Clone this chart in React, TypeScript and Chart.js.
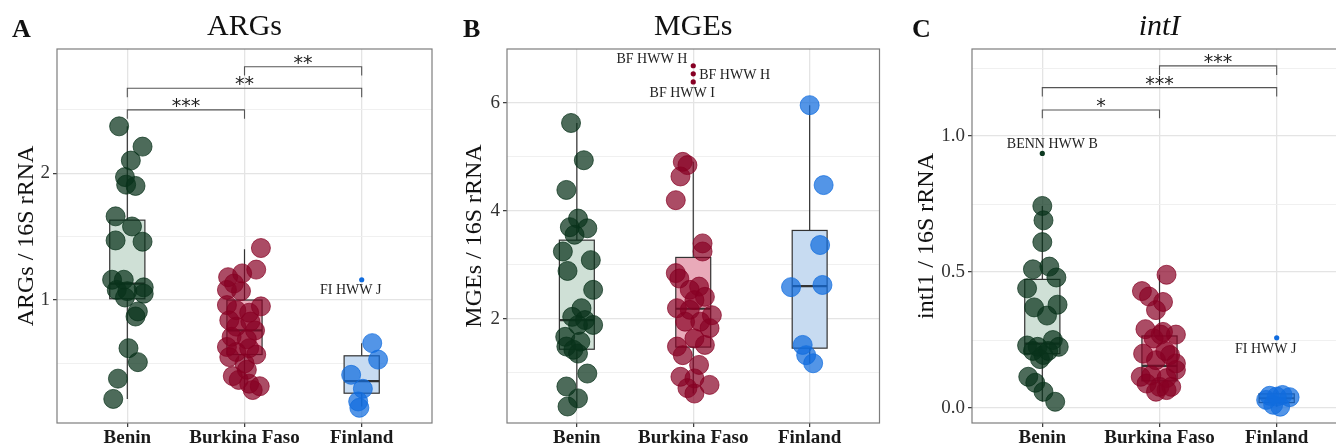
import React, { useEffect, useRef } from 'react';
import { Chart, registerables } from 'chart.js';
Chart.register(...registerables);

const SERIF = "'Liberation Serif', 'Times New Roman', serif";
const SANS = "'DejaVu Sans', sans-serif";

const groups = ['Benin', 'Burkina Faso', 'Finland'];

// ---------- Panel A: ARGs ----------
const argsBenin = [2.37, 2.21, 2.10, 1.97, 1.91, 1.90, 1.66, 1.58, 1.47, 1.46, 1.16, 1.16, 1.08, 1.07, 1.10, 1.05, 1.02, 0.91, 0.87, 0.62, 0.51, 0.38, 0.22];
const argsBeninJit = [-0.07, 0.13, 0.03, -0.02, -0.01, 0.07, -0.10, 0.04, -0.10, 0.13, -0.13, -0.03, -0.09, 0.0, 0.14, 0.14, -0.02, 0.09, 0.07, 0.01, 0.09, -0.08, -0.12];
const argsBurkina = [1.41, 1.24, 1.21, 1.18, 1.13, 1.08, 1.07, 0.95, 0.96, 0.92, 0.90, 0.84, 0.83, 0.79, 0.76, 0.71, 0.69, 0.63, 0.62, 0.59, 0.55, 0.57, 0.50, 0.45, 0.37, 0.34, 0.32, 0.29, 0.40];
const argsBurkinaJit = [0.14, 0.10, -0.02, -0.14, -0.09, -0.15, -0.03, 0.14, -0.15, -0.07, 0.04, -0.13, 0.05, -0.07, 0.09, -0.11, 0.02, -0.15, 0.04, -0.07, -0.13, 0.10, 0.0, 0.02, -0.05, 0.04, 0.13, 0.07, -0.10];
const argsFinland = [0.66, 0.53, 0.41, 0.30, 0.20, 0.15];
const argsFinlandJit = [0.09, 0.14, -0.09, 0.01, -0.03, -0.02];
const argsBoxLow = [0.22, 0.29, 0.16];
const argsBoxQ1 = [1.01, 0.57, 0.265];
const argsBoxMed = [1.13, 0.76, 0.36];
const argsBoxQ3 = [1.63, 1.00, 0.56];
const argsBoxHigh = [2.37, 1.40, 0.66];
const argsOutlierGroup = [3];
const argsOutlierValue = [1.16];
const argsOutlierLabel = ['FI HWW J'];
const argsSigFrom = [1, 1, 2];
const argsSigTo = [2, 3, 3];
const argsSigY = [2.50, 2.67, 2.84];
const argsSigTick = [2.43, 2.60, 2.77];
const argsSigLabel = ['***', '**', '**'];
const argsMajorTicks = [1, 2];
const argsMinorTicks = [0.5, 1.5, 2.5];

// ---------- Panel B: MGEs ----------
const mgeBenin = [5.63, 4.94, 4.39, 3.86, 3.70, 3.68, 3.56, 3.25, 3.09, 2.89, 2.54, 2.20, 2.04, 1.98, 1.89, 1.89, 1.67, 1.58, 1.49, 1.43, 1.36, 0.99, 0.75, 0.53, 0.38];
const mgeBeninJit = [-0.05, 0.06, -0.09, 0.01, -0.06, 0.09, -0.02, -0.12, 0.12, -0.08, 0.14, 0.04, -0.04, 0.07, 0.14, 0.01, -0.10, 0.03, -0.09, -0.03, 0.01, 0.09, -0.09, 0.01, -0.08];
const mgeBurkina = [4.91, 4.85, 4.64, 4.20, 3.40, 3.25, 2.85, 2.75, 2.60, 2.54, 2.41, 2.35, 2.20, 2.17, 2.07, 1.95, 1.95, 1.83, 1.49, 1.64, 1.52, 1.33, 1.15, 0.93, 0.90, 0.78, 0.72, 0.62];
const mgeBurkinaJit = [-0.09, -0.05, -0.11, -0.15, 0.08, 0.08, -0.15, -0.12, 0.05, -0.03, 0.10, 0.01, -0.14, -0.03, 0.16, -0.07, 0.06, 0.14, -0.14, 0.01, 0.10, -0.09, 0.05, -0.11, 0.01, 0.14, -0.05, 0.01];
const mgeFinland = [5.96, 4.48, 3.37, 2.59, 2.63, 1.52, 1.33, 1.18];
const mgeFinlandJit = [0.0, 0.12, 0.09, -0.16, 0.11, -0.06, -0.03, 0.03];
const mgeBoxLow = [0.38, 0.62, 1.18];
const mgeBoxQ1 = [1.44, 1.48, 1.46];
const mgeBoxMed = [1.98, 2.19, 2.61];
const mgeBoxQ3 = [3.46, 3.14, 3.64];
const mgeBoxHigh = [5.63, 4.91, 5.96];
const mgeOutlierGroup = [2, 2, 2];
const mgeOutlierValue = [6.69, 6.54, 6.39];
const mgeOutlierLabel = ['BF HWW H', 'BF HWW H', 'BF HWW I'];
const mgeMajorTicks = [2, 4, 6];
const mgeMinorTicks = [1, 3, 5];

// ---------- Panel C: intI ----------
const intBenin = [0.743, 0.69, 0.61, 0.51, 0.52, 0.48, 0.44, 0.38, 0.37, 0.34, 0.23, 0.25, 0.225, 0.225, 0.21, 0.195, 0.18, 0.115, 0.093, 0.06, 0.023, 0.21];
const intBeninJit = [0.0, 0.01, 0.0, -0.08, 0.06, 0.12, -0.13, 0.13, -0.07, 0.04, -0.13, 0.09, -0.04, 0.14, -0.08, 0.01, -0.02, -0.12, -0.06, 0.01, 0.11, 0.05];
const intBurkina = [0.49, 0.43, 0.41, 0.39, 0.36, 0.29, 0.28, 0.27, 0.256, 0.20, 0.195, 0.176, 0.14, 0.115, 0.12, 0.11, 0.09, 0.078, 0.078, 0.06, 0.066, 0.164, 0.21, 0.27];
const intBurkinaJit = [0.06, -0.15, -0.09, 0.03, -0.03, -0.12, 0.03, 0.14, -0.05, -0.14, 0.09, -0.03, 0.14, -0.16, -0.07, 0.06, -0.11, 0.0, 0.10, -0.03, 0.06, 0.14, 0.05, 0.01];
const intFinland = [0.045, 0.048, 0.04, 0.012, 0.005, 0.03, 0.042];
const intFinlandJit = [-0.06, 0.05, 0.11, -0.03, 0.03, -0.09, 0.0];
const intBoxLow = [0.023, 0.055, 0.005];
const intBoxQ1 = [0.20, 0.10, 0.02];
const intBoxMed = [0.237, 0.155, 0.036];
const intBoxQ3 = [0.473, 0.265, 0.052];
const intBoxHigh = [0.743, 0.49, 0.06];
const intOutlierGroup = [1, 3];
const intOutlierValue = [0.936, 0.258];
const intOutlierLabel = ['BENN HWW B', 'FI HWW J'];
const intSigFrom = [1, 1, 2];
const intSigTo = [2, 3, 3];
const intSigY = [1.096, 1.178, 1.258];
const intSigTick = [1.065, 1.145, 1.224];
const intSigLabel = ['*', '***', '***'];
const intMajorTicks = [0, 0.5, 1.0];
const intMinorTicks = [0.25, 0.75, 1.25];

// ---------- styles ----------
const pointColors = ['rgba(8,50,27,0.72)', 'rgba(135,0,36,0.70)', 'rgba(16,108,222,0.72)'];
const solidColors = ['#0c3820', '#870024', '#106cde'];
const boxFills = ['#cfe0d6', '#e9aab9', '#c7dbf1'];

type LabelPlace = { dx: number; dy: number; align: CanvasTextAlign };

type PanelCfg = {
  left: number; width: number; chartLeft: number; chartRight: number;
  yMin: number; yMax: number; major: number[]; minor: number[]; fmt: (v: number) => string;
  values: number[][]; jitter: number[][];
  boxLow: number[]; boxQ1: number[]; boxMed: number[]; boxQ3: number[]; boxHigh: number[];
  outGroup: number[]; outValue: number[]; outLabel: string[]; outPlace: LabelPlace[];
  sigFrom: number[]; sigTo: number[]; sigY: number[]; sigTick: number[]; sigLabel: string[];
  title: string; italic: boolean; letter: string; letterX: number; yTitle: string; yTitleX: number;
};

const panels: PanelCfg[] = [
  {
    left: 0, width: 445, chartLeft: 57, chartRight: 432,
    yMin: 0.03, yMax: 2.98, major: argsMajorTicks, minor: argsMinorTicks, fmt: (v) => String(v),
    values: [argsBenin, argsBurkina, argsFinland], jitter: [argsBeninJit, argsBurkinaJit, argsFinlandJit],
    boxLow: argsBoxLow, boxQ1: argsBoxQ1, boxMed: argsBoxMed, boxQ3: argsBoxQ3, boxHigh: argsBoxHigh,
    outGroup: argsOutlierGroup, outValue: argsOutlierValue, outLabel: argsOutlierLabel,
    outPlace: [{ dx: -11, dy: 11, align: 'center' }],
    sigFrom: argsSigFrom, sigTo: argsSigTo, sigY: argsSigY, sigTick: argsSigTick, sigLabel: argsSigLabel,
    title: 'ARGs', italic: false, letter: 'A', letterX: 12, yTitle: 'ARGs / 16S rRNA', yTitleX: 33,
  },
  {
    left: 445, width: 445, chartLeft: 62, chartRight: 436,
    yMin: 0.074, yMax: 7.0, major: mgeMajorTicks, minor: mgeMinorTicks, fmt: (v) => String(v),
    values: [mgeBenin, mgeBurkina, mgeFinland], jitter: [mgeBeninJit, mgeBurkinaJit, mgeFinlandJit],
    boxLow: mgeBoxLow, boxQ1: mgeBoxQ1, boxMed: mgeBoxMed, boxQ3: mgeBoxQ3, boxHigh: mgeBoxHigh,
    outGroup: mgeOutlierGroup, outValue: mgeOutlierValue, outLabel: mgeOutlierLabel,
    outPlace: [{ dx: -6, dy: -6, align: 'right' }, { dx: 6, dy: 1, align: 'left' }, { dx: -11, dy: 11, align: 'center' }],
    sigFrom: [], sigTo: [], sigY: [], sigTick: [], sigLabel: [],
    title: 'MGEs', italic: false, letter: 'B', letterX: 18, yTitle: 'MGEs / 16S rRNA', yTitleX: 36,
  },
  {
    left: 890, width: 470, chartLeft: 82, chartRight: 457,
    yMin: -0.055, yMax: 1.32, major: intMajorTicks, minor: intMinorTicks, fmt: (v) => v.toFixed(1),
    values: [intBenin, intBurkina, intFinland], jitter: [intBeninJit, intBurkinaJit, intFinlandJit],
    boxLow: intBoxLow, boxQ1: intBoxQ1, boxMed: intBoxMed, boxQ3: intBoxQ3, boxHigh: intBoxHigh,
    outGroup: intOutlierGroup, outValue: intOutlierValue, outLabel: intOutlierLabel,
    outPlace: [{ dx: 10, dy: -9, align: 'center' }, { dx: -11, dy: 11, align: 'center' }],
    sigFrom: intSigFrom, sigTo: intSigTo, sigY: intSigY, sigTick: intSigTick, sigLabel: intSigLabel,
    title: 'intI', italic: true, letter: 'C', letterX: 22, yTitle: 'intI1 / 16S rRNA', yTitleX: 43,
  },
];

const BOX_HALF = 0.15;
const Y_AXIS_W = 30;
const isIn = (arr: number[], v: number) => arr.some((a) => Math.abs(a - v) < 1e-9);

function makePlugin(cfg: PanelCfg) {
  return {
    id: 'panelDecor',
    beforeDatasetsDraw(chart: any) {
      const { ctx } = chart;
      const x = chart.scales.x;
      const y = chart.scales.y;
      ctx.save();
      for (let i = 0; i < 3; i++) {
        const cx = x.getPixelForValue(i + 1);
        const hw = Math.abs(x.getPixelForValue(i + 1 + BOX_HALF) - cx);
        const yLo = y.getPixelForValue(cfg.boxLow[i]);
        const yQ1 = y.getPixelForValue(cfg.boxQ1[i]);
        const yMed = y.getPixelForValue(cfg.boxMed[i]);
        const yQ3 = y.getPixelForValue(cfg.boxQ3[i]);
        const yHi = y.getPixelForValue(cfg.boxHigh[i]);
        ctx.strokeStyle = '#333';
        ctx.lineWidth = 1.2;
        ctx.beginPath();
        ctx.moveTo(cx, yLo); ctx.lineTo(cx, yQ1);
        ctx.moveTo(cx, yQ3); ctx.lineTo(cx, yHi);
        ctx.stroke();
        ctx.fillStyle = boxFills[i];
        ctx.fillRect(cx - hw, yQ3, 2 * hw, yQ1 - yQ3);
        ctx.strokeRect(cx - hw, yQ3, 2 * hw, yQ1 - yQ3);
        ctx.lineWidth = 2.2;
        ctx.beginPath();
        ctx.moveTo(cx - hw, yMed); ctx.lineTo(cx + hw, yMed);
        ctx.stroke();
      }
      ctx.restore();
    },
    afterDraw(chart: any) {
      const { ctx, chartArea } = chart;
      const x = chart.scales.x;
      const y = chart.scales.y;
      ctx.save();
      // panel border
      ctx.strokeStyle = '#7d7d7d';
      ctx.lineWidth = 1.2;
      ctx.strokeRect(chartArea.left, chartArea.top, chartArea.right - chartArea.left, chartArea.bottom - chartArea.top);
      // significance brackets
      for (let i = 0; i < cfg.sigFrom.length; i++) {
        const x1 = x.getPixelForValue(cfg.sigFrom[i]);
        const x2 = x.getPixelForValue(cfg.sigTo[i]);
        const yb = y.getPixelForValue(cfg.sigY[i]);
        const yt = y.getPixelForValue(cfg.sigTick[i]);
        ctx.strokeStyle = '#555';
        ctx.lineWidth = 1.1;
        ctx.beginPath();
        ctx.moveTo(x1, yt); ctx.lineTo(x1, yb); ctx.lineTo(x2, yb); ctx.lineTo(x2, yt);
        ctx.stroke();
        ctx.fillStyle = '#222';
        ctx.font = `19px ${SANS}`;
        ctx.textAlign = 'center';
        ctx.textBaseline = 'alphabetic';
        ctx.fillText(cfg.sigLabel[i], (x1 + x2) / 2, yb + 2);
      }
      // outlier labels
      const outMeta = chart.getDatasetMeta(3);
      ctx.font = `14px ${SERIF}`;
      ctx.fillStyle = '#222';
      ctx.textBaseline = 'middle';
      outMeta.data.forEach((pt: any, k: number) => {
        const place = cfg.outPlace[k];
        ctx.textAlign = place.align;
        ctx.fillText(cfg.outLabel[k], pt.x + place.dx, pt.y + place.dy);
      });
      // title
      ctx.fillStyle = '#111';
      ctx.textAlign = 'center';
      ctx.textBaseline = 'alphabetic';
      ctx.font = `${cfg.italic ? 'italic ' : ''}30px ${SERIF}`;
      ctx.fillText(cfg.title, (chartArea.left + chartArea.right) / 2, 35);
      // panel letter
      ctx.textAlign = 'left';
      ctx.font = `bold 26px ${SERIF}`;
      ctx.fillText(cfg.letter, cfg.letterX, 37);
      // y-axis title
      ctx.save();
      ctx.translate(cfg.yTitleX, (chartArea.top + chartArea.bottom) / 2);
      ctx.rotate(-Math.PI / 2);
      ctx.textAlign = 'center';
      ctx.font = `24px ${SERIF}`;
      ctx.fillText(cfg.yTitle, 0, 0);
      ctx.restore();
      ctx.restore();
    },
  };
}

function Panel({ cfg }: { cfg: PanelCfg }) {
  const ref = useRef<HTMLCanvasElement>(null);
  useEffect(() => {
    const canvas = ref.current;
    if (!canvas) return;
    const allTicks = [...cfg.major, ...cfg.minor].sort((a, b) => a - b);
    const datasets: any[] = cfg.values.map((vals, i) => ({
      data: vals.map((v, k) => ({ x: i + 1 + cfg.jitter[i][k], y: v })),
      backgroundColor: pointColors[i],
      borderColor: pointColors[i],
      borderWidth: 1,
      pointRadius: 9.5,
      pointHoverRadius: 9.5,
    }));
    datasets.push({
      data: cfg.outValue.map((v, k) => ({ x: cfg.outGroup[k], y: v })),
      backgroundColor: cfg.outGroup.map((g) => solidColors[g - 1]),
      borderWidth: 0,
      pointRadius: 2.6,
      pointHoverRadius: 2.6,
    });
    const chart = new Chart(canvas, {
      type: 'scatter',
      data: { datasets },
      options: {
        responsive: false,
        animation: false,
        devicePixelRatio: 1,
        events: [],
        layout: { padding: { left: cfg.chartLeft - Y_AXIS_W, right: cfg.width - cfg.chartRight, top: 49, bottom: 0 } },
        plugins: { legend: { display: false }, tooltip: { enabled: false }, title: { display: false } },
        scales: {
          x: {
            type: 'linear', min: 0.4, max: 3.6,
            afterBuildTicks: (s: any) => { s.ticks = [1, 2, 3].map((v) => ({ value: v })); },
            afterFit: (s: any) => { s.height = 23; },
            ticks: {
              callback: (v: any) => groups[Math.round(Number(v)) - 1] ?? '',
              autoSkip: false, maxRotation: 0, padding: 0,
              font: { family: SERIF, size: 19, weight: 'bold' }, color: '#1a1a1a',
            },
            grid: { color: '#e4e4e4', lineWidth: 1.3, tickLength: 4, tickColor: '#333', tickWidth: 1.2 },
            border: { display: false },
          },
          y: {
            type: 'linear', min: cfg.yMin, max: cfg.yMax,
            afterBuildTicks: (s: any) => { s.ticks = allTicks.map((v) => ({ value: v })); },
            afterFit: (s: any) => { s.width = Y_AXIS_W; },
            ticks: {
              callback: (v: any) => (isIn(cfg.major, Number(v)) ? cfg.fmt(Number(v)) : ''),
              autoSkip: false, padding: 3,
              font: { family: SERIF, size: 19 }, color: '#333',
            },
            grid: {
              color: (c: any) => (isIn(cfg.major, c.tick?.value) ? '#e4e4e4' : '#eeeeee'),
              lineWidth: (c: any) => (isIn(cfg.major, c.tick?.value) ? 1.3 : 0.9),
              tickLength: 4,
              tickColor: '#333',
              tickWidth: (c: any) => (isIn(cfg.major, c.tick?.value) ? 1.2 : 0),
            },
            border: { display: false },
          },
        },
      } as any,
      plugins: [makePlugin(cfg)],
    });
    return () => chart.destroy();
  }, [cfg]);
  return (
    <canvas
      ref={ref}
      width={cfg.width}
      height={446}
      style={{ position: 'absolute', left: cfg.left, top: 0, width: cfg.width, height: 446 }}
    />
  );
}

export default function App() {
  return (
    <div style={{ position: 'fixed', left: 0, top: 0, width: 1336, height: 446, overflow: 'hidden', background: '#fff' }}>
      {panels.map((p) => (
        <Panel key={p.letter} cfg={p} />
      ))}
    </div>
  );
}
